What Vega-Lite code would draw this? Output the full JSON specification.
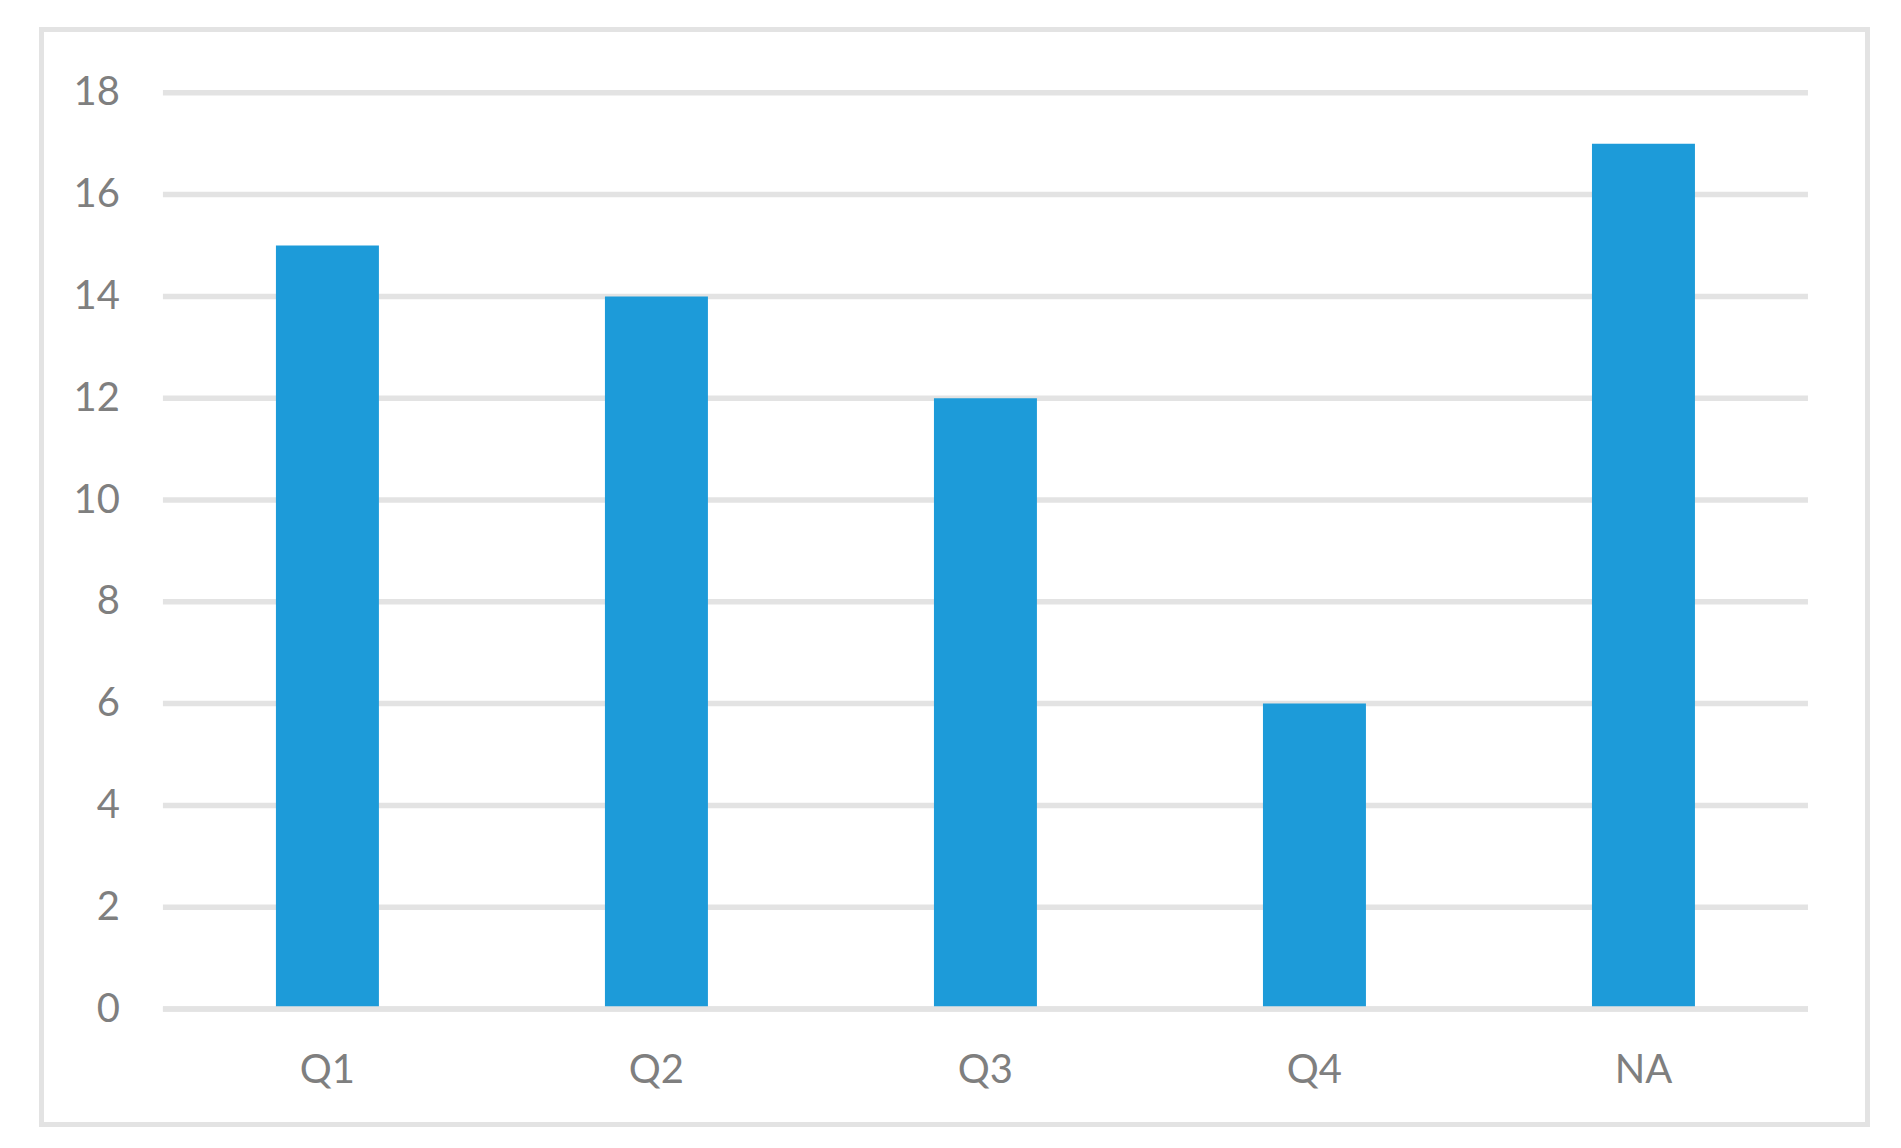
{
  "$schema": "https://vega.github.io/schema/vega-lite/v6.json",
  "width": 1826,
  "height": 1095,
  "autosize": "none",
  "padding": {"left": 41.5, "top": 29.5, "right": 33.5, "bottom": 23.5},
  "background": "white",
  "config": {"view": {"stroke": "#e3e3e3", "strokeWidth": 5}, "font": "Lato"},
  "datasets": {
    "bars": [
      {"q": "Q1", "n": 15},
      {"q": "Q2", "n": 14},
      {"q": "Q3", "n": 12},
      {"q": "Q4", "n": 6},
      {"q": "NA", "n": 17}
    ],
    "grid": [
      {"v": 0}, {"v": 2}, {"v": 4}, {"v": 6}, {"v": 8},
      {"v": 10}, {"v": 12}, {"v": 14}, {"v": 16}, {"v": 18}
    ]
  },
  "layer": [
    {
      "data": {"name": "grid"},
      "mark": {"type": "rule", "color": "#e3e3e3", "strokeWidth": 5.5},
      "encoding": {
        "y": {
          "field": "v", "type": "quantitative",
          "scale": {"domain": [-2.269, 19.244], "nice": false, "zero": false},
          "axis": {"title": null, "values": [0, 2, 4, 6, 8, 10, 12, 14, 16, 18], "grid": false, "domain": false, "ticks": false, "offset": -78, "labelPadding": 0, "labelFontSize": 40, "labelColor": "#7f7f7f", "labelFont": "Lato", "labelFlush": false}
        },
        "x": {"datum": "Q1", "type": "nominal", "bandPosition": 0,
          "scale": {"domain": ["Q1", "Q2", "Q3", "Q4", "NA"], "paddingInner": 0, "paddingOuter": 0.275, "align": 0.671},
          "axis": {"title": null, "orient": "bottom", "labelAngle": 0, "domain": false, "ticks": false, "offset": -74.5, "labelPadding": 0, "labelFontSize": 40, "labelColor": "#7f7f7f", "labelFont": "Lato"}
        },
        "x2": {"datum": "NA", "bandPosition": 1}
      }
    },
    {
      "data": {"name": "bars"},
      "mark": {"type": "bar", "width": {"band": 0.313}, "color": "#1d9bd9"},
      "encoding": {
        "x": {"field": "q", "type": "nominal", "sort": null,
          "scale": {"domain": ["Q1", "Q2", "Q3", "Q4", "NA"], "paddingInner": 0, "paddingOuter": 0.275, "align": 0.671},
          "axis": {"title": null, "orient": "bottom", "labelAngle": 0, "domain": false, "ticks": false, "offset": -74.5, "labelPadding": 0, "labelFontSize": 40, "labelColor": "#7f7f7f", "labelFont": "Lato"}
        },
        "y": {"field": "n", "type": "quantitative",
          "scale": {"domain": [-2.269, 19.244], "nice": false, "zero": false},
          "axis": {"title": null, "values": [0, 2, 4, 6, 8, 10, 12, 14, 16, 18], "grid": false, "domain": false, "ticks": false, "offset": -78, "labelPadding": 0, "labelFontSize": 40, "labelColor": "#7f7f7f", "labelFont": "Lato", "labelFlush": false}
        },
        "y2": {"datum": 0}
      }
    },
    {
      "data": {"name": "grid"},
      "transform": [{"filter": "datum.v === 0"}],
      "mark": {"type": "rule", "color": "#e3e3e3", "strokeWidth": 5.5},
      "encoding": {
        "y": {"field": "v", "type": "quantitative"},
        "x": {"datum": "Q1", "type": "nominal", "bandPosition": 0},
        "x2": {"datum": "NA", "bandPosition": 1}
      }
    }
  ]
}
